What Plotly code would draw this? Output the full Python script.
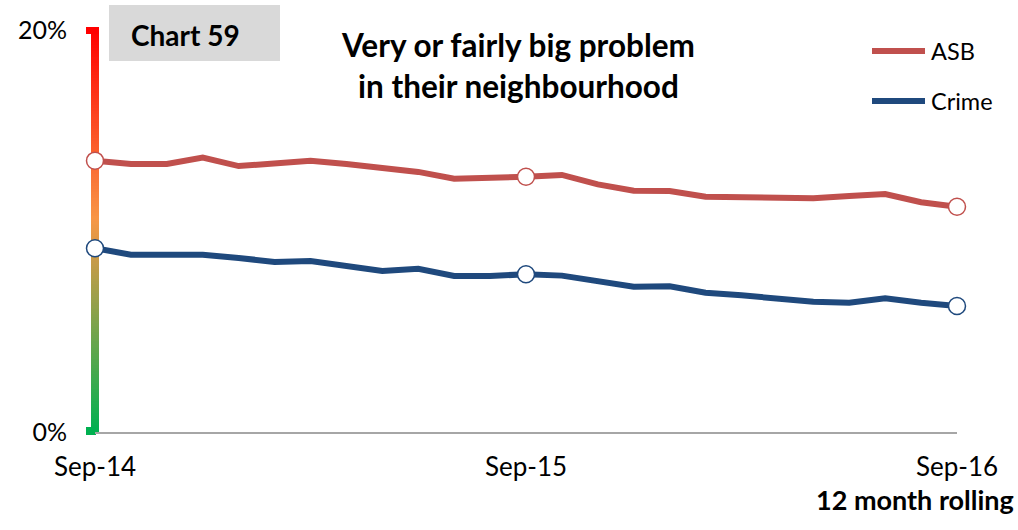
import plotly.graph_objects as go

# Monthly 12-month rolling periods
months = ["Sep-14", "Oct-14", "Nov-14", "Dec-14", "Jan-15", "Feb-15", "Mar-15",
          "Apr-15", "May-15", "Jun-15", "Jul-15", "Aug-15", "Sep-15", "Oct-15",
          "Nov-15", "Dec-15", "Jan-16", "Feb-16", "Mar-16", "Apr-16", "May-16",
          "Jun-16", "Jul-16", "Aug-16", "Sep-16"]

# % saying it is a very or fairly big problem in their neighbourhood
asb = [13.50, 13.33, 13.33, 13.65, 13.23, 13.33, 13.50, 13.33, 13.13, 12.94,
       12.60, 12.62, 12.70, 12.79, 12.32, 12.00, 11.99, 11.71, 11.68, 11.61,
       11.63, 11.74, 11.84, 11.43, 11.21]
crime = [9.14, 8.82, 8.82, 8.82, 8.66, 8.46, 8.51, 8.26, 8.01, 8.12,
         7.76, 7.76, 7.85, 7.78, 7.53, 7.23, 7.25, 6.93, 6.80, 6.67,
         6.48, 6.43, 6.65, 6.43, 6.27]

x_ticks = ["Sep-14", "Sep-15", "Sep-16"]
y_ticks = [0, 20]
y_ticktext = ["0%", "20%"]

W, H = 1018, 530
L, R, T, B = 95, 61, 30, 98
PW, PH = W - L - R, H - T - B
FONT = "Lato"
RED, BLUE = "#C0504D", "#1F497D"


def px(x):
    return (x - L) / PW


def py(y):
    return (H - B - y) / PH


fig = go.Figure()
for name, vals, col in [("ASB", asb, RED), ("Crime", crime, BLUE)]:
    fig.add_trace(go.Scatter(
        x=months, y=vals, name=name, mode="lines",
        line=dict(color=col, width=6), cliponaxis=False, showlegend=False,
    ))
# hollow markers at the yearly points
for name, vals, col in [("ASB", asb, RED), ("Crime", crime, BLUE)]:
    idx = [i for i, m in enumerate(months) if m in x_ticks]
    fig.add_trace(go.Scatter(
        x=[months[i] for i in idx], y=[vals[i] for i in idx], name=name,
        mode="markers", cliponaxis=False, showlegend=False,
        marker=dict(size=17, color="white", opacity=1,
                    line=dict(color=col, width=1.5)),
    ))

# red -> orange -> green gradient scale bar along the value axis
stops = [(0.0, (255, 0, 0)), (0.47, (248, 150, 70)), (1.0, (0, 176, 80))]


def grad(t):
    for (t0, c0), (t1, c1) in zip(stops, stops[1:]):
        if t <= t1:
            f = (t - t0) / (t1 - t0)
            return "rgb(%d,%d,%d)" % tuple(round(a + (b - a) * f) for a, b in zip(c0, c1))
    return "rgb(%d,%d,%d)" % stops[-1][1]


shapes = []
n = 134
top, bot = 30, 432
for k in range(n):
    y0 = top + (bot - top) * k / n
    y1 = top + (bot - top) * (k + 1) / n
    shapes.append(dict(type="rect", xref="paper", yref="paper",
                       x0=px(91), x1=px(99), y0=py(y1 + 0.5), y1=py(y0 - 0.5),
                       fillcolor=grad((k + 0.5) / n), line=dict(width=0), layer="below"))
# end caps of the scale bar
shapes.append(dict(type="rect", xref="paper", yref="paper",
                   x0=px(86), x1=px(99), y0=py(34), y1=py(27),
                   fillcolor="rgb(255,0,0)", line=dict(width=0), layer="below"))
shapes.append(dict(type="rect", xref="paper", yref="paper",
                   x0=px(86), x1=px(96), y0=py(435), y1=py(427),
                   fillcolor="rgb(0,176,80)", line=dict(width=0), layer="below"))

# chart number box
shapes.append(dict(type="rect", xref="paper", yref="paper",
                   x0=px(109), x1=px(280), y0=py(61), y1=py(5),
                   fillcolor="#D9D9D9", line=dict(width=0)))

# legend keys
for yy, col in [(51, RED), (101, BLUE)]:
    shapes.append(dict(type="line", xref="paper", yref="paper",
                       x0=px(872), x1=px(925), y0=py(yy), y1=py(yy),
                       line=dict(color=col, width=6)))

annotations = [
    dict(text="<b>Chart 59</b>", x=px(129), y=py(35), xanchor="left", yanchor="middle",
         font=dict(size=28, color="black", family=FONT)),
    dict(text="<b>Very or fairly big problem<br>in their neighbourhood</b>",
         x=px(518), y=py(65), xanchor="center", yanchor="middle", align="center",
         font=dict(size=31.5, color="black", family=FONT)),
    dict(text="ASB", x=px(929), y=py(51), xanchor="left", yanchor="middle",
         font=dict(size=23.5, color="black", family=FONT)),
    dict(text="Crime", x=px(929), y=py(101), xanchor="left", yanchor="middle",
         font=dict(size=23.5, color="black", family=FONT)),
    dict(text="<b>12 month rolling</b>", x=px(1016), y=py(499), xanchor="right",
         yanchor="middle", font=dict(size=27, color="black", family=FONT)),
]
for a in annotations:
    a.update(xref="paper", yref="paper", showarrow=False)

fig.update_layout(
    width=W, height=H,
    margin=dict(l=L, r=R, t=T, b=B, pad=0),
    paper_bgcolor="white", plot_bgcolor="white",
    font=dict(family=FONT, size=25, color="black"),
    shapes=shapes, annotations=annotations,
    xaxis=dict(type="category", range=[0, 24], tickvals=x_ticks, ticktext=x_ticks,
               showgrid=False, zeroline=False, showline=True, linecolor="#A6A6A6",
               linewidth=1.5, ticks="", ticklabelstandoff=11,
               tickfont=dict(size=26, family=FONT)),
    yaxis=dict(range=[0, 20], tickvals=y_ticks, ticktext=y_ticktext,
               showgrid=False, zeroline=False, showline=False, ticks="",
               ticklabelstandoff=27, tickfont=dict(size=25, family=FONT)),
)

fig.write_html("out.html")
